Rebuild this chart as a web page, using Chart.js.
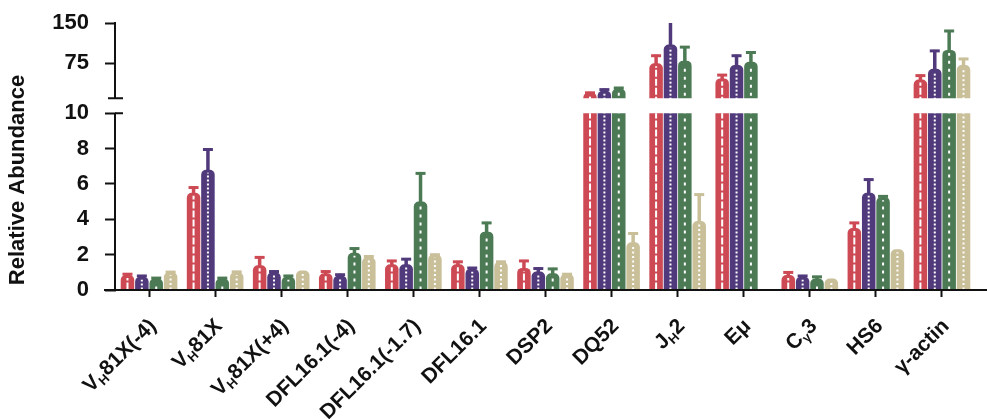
<!DOCTYPE html>
<html>
<head>
<meta charset="utf-8">
<script src="https://cdn.jsdelivr.net/npm/chart.js@4.4.1/dist/chart.umd.min.js"></script>
<style>
  html, body { margin: 0; padding: 0; background: #fff; }
  canvas { display: block; }
</style>
</head>
<body>
<canvas id="c" width="987" height="419"></canvas>
<script>
// Category labels; "_x" marks a single subscript character
const categories = ['V_H81X(-4)', 'V_H81X', 'V_H81X(+4)', 'DFL16.1(-4)', 'DFL16.1(-1.7)', 'DFL16.1',
                    'DSP2', 'DQ52', 'J_H2', 'Eμ', 'C_γ3', 'HS6', 'γ-actin'];

// Relative abundance per series (mean) and the upper error (SD)
const seriesA    = [0.85, 5.5, 1.4, 0.95, 1.45, 1.45, 1.25, 20, 75, 47, 0.85, 3.5, 45];
const seriesAErr = [0.1, 0.35, 0.5, 0.15, 0.25, 0.2, 0.45, 2, 16, 8, 0.2, 0.35, 9];
const seriesB    = [0.75, 6.8, 1.0, 0.8, 1.45, 1.2, 1.05, 24, 110, 72, 0.75, 5.5, 65];
const seriesBErr = [0.1, 1.2, 0.1, 0.12, 0.35, 0.1, 0.22, 4, 42, 19, 0.1, 0.8, 35];
const seriesC    = [0.65, 0.65, 0.75, 2.1, 5.0, 3.3, 0.95, 28, 80, 78, 0.65, 5.25, 100];
const seriesCErr = [0.08, 0.08, 0.1, 0.3, 1.65, 0.55, 0.3, 3, 27, 19, 0.15, 0.1, 37];
const seriesD    = [1.0, 1.0, 1.1, 1.85, 2.0, 1.6, 0.9, 2.7, 3.9, null, 0.65, 2.3, 72];
const seriesDErr = [0.07, 0.08, 0, 0.1, 0.05, 0.05, 0.05, 0.55, 1.55, null, 0, 0, 13];

// Broken value axis: lower segment 0-10, upper segment 10-150
const lowTicks = [0, 2, 4, 6, 8, 10];
const highTicks = [75, 150];
const BREAK_VALUE = 10;
const HIGH_MAX = 150;
const LOW_AXIS_MAX = 10.84;   // headroom above 10 that forms the gap of the break

const MAIN_FONT = 'bold 22px "Liberation Sans", Arial, sans-serif';
const LABEL_FONT = 'bold 21px "Liberation Sans", Arial, sans-serif';
const SUB_FONT = 'bold 13px "Liberation Sans", Arial, sans-serif';
const INK = '#111';

const seriesList = [
  { name: 'A', values: seriesA, errors: seriesAErr, color: '#cd4a55', dash: [7, 2] },
  { name: 'B', values: seriesB, errors: seriesBErr, color: '#513a7b', dash: [2, 2] },
  { name: 'C', values: seriesC, errors: seriesCErr, color: '#4b7a54', dash: [3, 5] },
  { name: 'D', values: seriesD, errors: seriesDErr, color: '#c9bf99', dash: [2, 2.5] }
];

const datasets = [];
// lower segment: bars capped at the break value
seriesList.forEach((s, k) => {
  datasets.push({
    label: s.name,
    seriesIndex: k,
    data: s.values.map(v => (v == null ? null : Math.min(v, BREAK_VALUE))),
    yAxisID: 'yLow',
    stack: 's' + k,
    backgroundColor: s.color,
    borderSkipped: 'start',
    borderRadius: ctx => (s.values[ctx.dataIndex] > BREAK_VALUE ? 0 : 5)
  });
});
// upper segment: the part of tall bars above the break
seriesList.forEach((s, k) => {
  datasets.push({
    label: s.name,
    seriesIndex: k,
    data: s.values.map(v => (v != null && v > BREAK_VALUE ? v : null)),
    yAxisID: 'yHigh',
    stack: 's' + k,
    backgroundColor: s.color,
    borderSkipped: 'start',
    borderRadius: 5
  });
});

function parseLabel(str) {
  const segs = [];
  let buf = '';
  for (let i = 0; i < str.length; i++) {
    if (str[i] === '_' && i + 1 < str.length) {
      if (buf) segs.push({ t: buf, sub: false });
      buf = '';
      segs.push({ t: str[i + 1], sub: true });
      i++;
    } else {
      buf += str[i];
    }
  }
  if (buf) segs.push({ t: buf, sub: false });
  return segs;
}

const decorations = {
  id: 'decorations',
  afterDatasetsDraw(chart) {
    const c = chart.ctx;
    const area = chart.chartArea;
    c.save();
    c.beginPath();
    c.rect(area.left, area.top, chart.width - area.left, area.bottom - area.top);
    c.clip();

    // white dashed centre line inside each bar
    chart.data.datasets.forEach((ds, di) => {
      const meta = chart.getDatasetMeta(di);
      const s = seriesList[ds.seriesIndex];
      c.strokeStyle = '#ffffff';
      c.lineWidth = 2;
      c.setLineDash(s.dash);
      meta.data.forEach((el, i) => {
        if (ds.data[i] == null) return;
        const cut = ds.yAxisID === 'yLow' && s.values[i] > BREAK_VALUE;
        const top = el.y + (cut ? 0 : 3);
        if (el.base - top < 2) return;
        c.beginPath();
        c.moveTo(el.x, el.base);
        c.lineTo(el.x, top);
        c.stroke();
      });
    });

    // error bars
    c.setLineDash([]);
    seriesList.forEach((s, k) => {
      const meta = chart.getDatasetMeta(k);
      s.values.forEach((v, i) => {
        const e = s.errors[i];
        if (v == null || !e) return;
        const scale = v > BREAK_VALUE ? chart.scales.yHigh : chart.scales.yLow;
        const limit = v > BREAK_VALUE ? HIGH_MAX : BREAK_VALUE;
        const x = meta.data[i].x;
        const y0 = scale.getPixelForValue(v);
        const y1 = scale.getPixelForValue(Math.min(v + e, limit));
        c.strokeStyle = s.color;
        c.lineWidth = 3.5;
        c.beginPath();
        c.moveTo(x, y0 + 1);
        c.lineTo(x, y1);
        c.stroke();
        if (v + e <= limit) {
          c.lineWidth = 3;
          c.beginPath();
          c.moveTo(x - 5, y1 + 1);
          c.lineTo(x + 5, y1 + 1);
          c.stroke();
        }
      });
    });
    c.restore();
  },
  afterDraw(chart) {
    const c = chart.ctx;
    const area = chart.chartArea;
    const hi = chart.scales.yHigh;
    const lo = chart.scales.yLow;
    const ax = area.left - 1;
    c.save();
    c.strokeStyle = INK;
    c.lineWidth = 2;
    c.lineCap = 'butt';
    // upper axis segment with its bottom cap
    const hiTop = hi.getPixelForValue(HIGH_MAX);
    const hiBottom = hi.getPixelForValue(BREAK_VALUE);
    c.beginPath();
    c.moveTo(ax, hiTop - 1);
    c.lineTo(ax, hiBottom);
    c.moveTo(ax - 7, hiBottom);
    c.lineTo(ax + 8, hiBottom);
    // lower axis segment with the extended tick at the break
    const loTop = lo.getPixelForValue(BREAK_VALUE);
    const loBottom = lo.getPixelForValue(0);
    c.moveTo(ax, loTop);
    c.lineTo(ax, loBottom + 1);
    c.moveTo(ax, loTop);
    c.lineTo(ax + 8, loTop);
    // category axis line
    c.moveTo(area.left - 12, loBottom);
    c.lineTo(chart.width, loBottom);
    c.stroke();

    // category labels, rotated, with subscripts
    const xs = chart.scales.x;
    c.fillStyle = INK;
    c.textBaseline = 'middle';
    c.textAlign = 'left';
    categories.forEach((lab, i) => {
      const segs = parseLabel(lab);
      let w = 0;
      segs.forEach(sg => {
        c.font = sg.sub ? SUB_FONT : LABEL_FONT;
        sg.w = c.measureText(sg.t).width;
        w += sg.w;
      });
      c.save();
      c.translate(xs.getPixelForTick(i) + 4, area.bottom + 33);
      c.rotate(-Math.PI / 4);
      let cx = -w;
      segs.forEach(sg => {
        c.font = sg.sub ? SUB_FONT : LABEL_FONT;
        c.fillText(sg.t, cx, sg.sub ? 6 : 0);
        cx += sg.w;
      });
      c.restore();
    });

    // value axis title
    c.save();
    c.translate(18, 180);
    c.rotate(-Math.PI / 2);
    c.font = MAIN_FONT;
    c.textAlign = 'center';
    c.fillText('Relative Abundance', 0, 0);
    c.restore();
    c.restore();
  }
};

const tickGrid = { display: true, drawOnChartArea: false, drawTicks: true, tickLength: 11, tickWidth: 2, tickColor: INK };
const tickFont = { family: '"Liberation Sans", Arial, sans-serif', size: 22, weight: 'bold' };

// fixed gutter for the value axes; label overhang is covered by the layout padding
function fitValueAxis(s) {
  s.width = 116;
  s.paddingTop = 0;
  s.paddingBottom = 0;
}

new Chart(document.getElementById('c'), {
  type: 'bar',
  data: { labels: categories.map(l => l.replace(/_/g, '')), datasets },
  options: {
    responsive: false,
    animation: false,
    events: [],
    layout: { padding: { top: 23, right: 12, left: 0, bottom: 0 } },
    datasets: { bar: { categoryPercentage: 0.87, barPercentage: 0.94 } },
    plugins: { legend: { display: false }, tooltip: { enabled: false } },
    scales: {
      x: {
        grid: { display: true, offset: false, drawOnChartArea: false, drawTicks: true, tickLength: 7, tickWidth: 2, tickColor: INK },
        border: { display: false },
        ticks: { display: false },
        afterFit: s => { s.height = 129; s.paddingLeft = 0; s.paddingRight = 0; }
      },
      yLow: {
        type: 'linear', position: 'left', stack: 'value', stackWeight: 191.5,
        min: 0, max: LOW_AXIS_MAX, stacked: false,
        afterBuildTicks: s => { s.ticks = lowTicks.map(v => ({ value: v })); },
        ticks: { color: INK, font: tickFont, padding: 16, autoSkip: false },
        grid: tickGrid,
        border: { display: false },
        afterFit: fitValueAxis
      },
      yHigh: {
        type: 'linear', position: 'left', stack: 'value', stackWeight: 75.2,
        min: BREAK_VALUE, max: HIGH_MAX, stacked: false, beginAtZero: false,
        afterBuildTicks: s => { s.ticks = highTicks.map(v => ({ value: v })); },
        ticks: { color: INK, font: tickFont, padding: 16, autoSkip: false },
        grid: tickGrid,
        border: { display: false },
        afterFit: fitValueAxis
      }
    }
  },
  plugins: [decorations]
});
</script>
</body>
</html>
